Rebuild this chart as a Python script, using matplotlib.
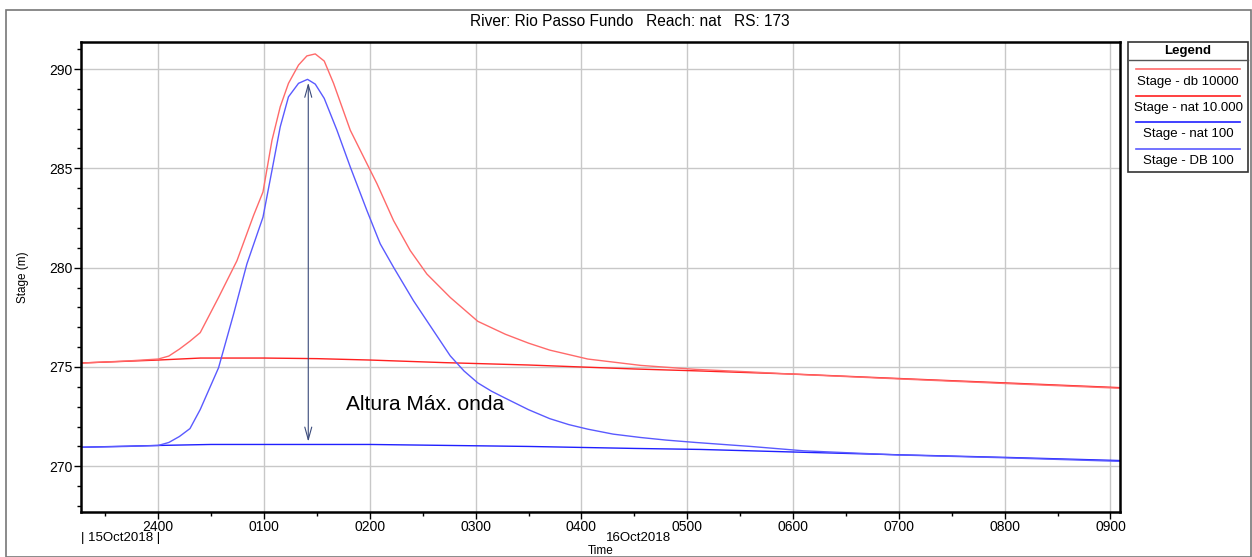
import numpy as np
import matplotlib.pyplot as plt
from matplotlib.patches import Rectangle
from matplotlib.lines import Line2D

plt.rcParams['font.family'] = ['Liberation Sans', 'DejaVu Sans']

# time in hours after 15Oct2018 2400
t_db10000 = [-0.73, -0.3, 0.0, 0.1, 0.2, 0.3, 0.397, 0.57, 0.744, 0.901, 0.99, 1.075, 1.153, 1.231,
             1.326, 1.405, 1.484, 1.569, 1.657, 1.815, 1.972, 2.067, 2.224, 2.382, 2.539, 2.76,
             3.02, 3.28, 3.5, 3.7, 4.06, 4.56, 5.08, 5.6, 6.07, 7.0, 8.0, 9.09]
y_db10000 = [275.2, 275.3, 275.4, 275.55, 275.9, 276.3, 276.73, 278.5, 280.35, 282.63, 283.81, 286.41,
             288.1, 289.28, 290.2, 290.66, 290.76, 290.4, 289.28, 286.92, 285.24, 284.23, 282.37,
             280.86, 279.68, 278.5, 277.3, 276.65, 276.2, 275.85, 275.4, 275.08, 274.88, 274.75,
             274.62, 274.4, 274.17, 273.93]

t_nat10000 = [-0.73, 0.0, 0.4, 1.0, 1.5, 2.0, 2.7, 3.5, 4.5, 5.12, 6.07, 7.0, 8.0, 9.09]
y_nat10000 = [275.2, 275.35, 275.45, 275.45, 275.42, 275.35, 275.22, 275.1, 274.9, 274.8, 274.63,
              274.42, 274.2, 273.96]

t_nat100 = [-0.73, 0.0, 0.5, 1.0, 1.5, 2.0, 2.6, 3.5, 4.5, 5.12, 6.07, 7.0, 8.0, 9.09]
y_nat100 = [270.96, 271.05, 271.1, 271.1, 271.1, 271.1, 271.06, 271.0, 270.9, 270.85, 270.71,
            270.58, 270.45, 270.29]

t_DB100 = [-0.73, -0.3, 0.0, 0.1, 0.2, 0.3, 0.397, 0.57, 0.712, 0.838, 0.99, 1.075, 1.153, 1.231,
           1.326, 1.411, 1.484, 1.569, 1.689, 1.815, 1.972, 2.098, 2.224, 2.413, 2.602, 2.76,
           2.89, 3.02, 3.15, 3.28, 3.5, 3.7, 3.88, 4.06, 4.3, 4.56, 4.8, 5.08, 5.6, 6.1, 7.0,
           8.0, 9.09]
y_DB100 = [270.96, 271.0, 271.05, 271.2, 271.5, 271.9, 272.86, 274.96, 277.66, 280.19, 282.54,
           284.9, 287.09, 288.6, 289.28, 289.48, 289.24, 288.52, 286.92, 285.07, 282.88, 281.2,
           280.02, 278.33, 276.82, 275.56, 274.8, 274.2, 273.78, 273.43, 272.85, 272.4, 272.1,
           271.87, 271.62, 271.45, 271.32, 271.2, 271.0, 270.78, 270.57, 270.43, 270.25]

xtick_pos = list(range(0, 10))
xtick_labels = ['2400', '0100', '0200', '0300', '0400', '0500', '0600', '0700', '0800', '0900']
ytick_pos = [270, 275, 280, 285, 290]

legend_labels = ['Stage - db 10000', 'Stage - nat 10.000', 'Stage - nat 100', 'Stage - DB 100']
legend_colors = ['#ff6a6a', '#ff2020', '#2020ff', '#5a5aff']

W, H = 1252, 557
fig = plt.figure(figsize=(W / 100, H / 100), dpi=100)
ax = fig.add_axes([81 / W, 1 - 512 / H, (1120 - 81) / W, (512 - 42) / H])

ax.plot(t_nat10000, y_nat10000, color=legend_colors[1], lw=1.0)
ax.plot(t_nat100, y_nat100, color=legend_colors[2], lw=1.0)
ax.plot(t_db10000, y_db10000, color=legend_colors[0], lw=1.0)
ax.plot(t_DB100, y_DB100, color=legend_colors[3], lw=1.0)

ax.set_xlim(-0.73, 9.09)
ax.set_ylim(267.7, 291.36)
ax.set_xticks(xtick_pos)
ax.set_xticklabels(xtick_labels, fontsize=10)
ax.set_xticks(np.arange(-0.5, 9.1, 0.5), minor=True)
ax.set_yticks(ytick_pos)
ax.set_yticklabels([str(v) for v in ytick_pos], fontsize=10)
ax.set_yticks(np.arange(268, 292, 1), minor=True)
ax.tick_params(which='major', direction='out', length=5, width=1, pad=1)
ax.tick_params(which='minor', direction='out', length=3, width=1)
ax.grid(True, which='major', color='#c8c8c8', lw=1)
ax.set_axisbelow(True)
for s in ax.spines.values():
    s.set_linewidth(1.8)
ax.set_ylabel('Stage (m)', fontsize=8.5)
ax.yaxis.set_label_coords(-0.050, 0.5)

# arrow for wave height
ax.annotate('', xy=(1.418, 289.45), xytext=(1.418, 271.1),
            arrowprops=dict(arrowstyle='<->,head_length=0.9,head_width=0.25', color='#3a4a7a', lw=0.8))
ax.text(1.77, 273.1, 'Altura Máx. onda', fontsize=15, va='center', ha='left')

# date labels below the time axis
fig.text(81 / W, 1 - 538 / H, '| 15Oct2018 |', fontsize=9.5, va='center', ha='left')
fig.text(639 / W, 1 - 538 / H, '16Oct2018', fontsize=9.5, va='center', ha='center')
fig.text(601 / W, 1 - 551 / H, 'Time', fontsize=8.5, va='center', ha='center')

fig.text(630 / W, 1 - 21 / H, 'River: Rio Passo Fundo   Reach: nat   RS: 173', fontsize=11.2,
         va='center', ha='center')

# outer frame
fig.patches.append(Rectangle((6 / W, 0), (W - 7) / W, 1 - 10 / H, transform=fig.transFigure,
                             fill=False, ec='#777777', lw=1.2))

# legend box
lx0, lx1, ly0, ly1 = 1128, 1248, 42, 172
fig.patches.append(Rectangle((lx0 / W, 1 - ly1 / H), (lx1 - lx0) / W, (ly1 - ly0) / H,
                             transform=fig.transFigure, fill=False, ec='#333333', lw=1.2))
fig.add_artist(Line2D([lx0 / W, lx1 / W], [1 - 60 / H, 1 - 60 / H], color='#555555', lw=1))
fig.text((lx0 + lx1) / 2 / W, 1 - 51 / H, 'Legend', fontsize=9.5, fontweight='bold',
         va='center', ha='center')
for i, (lab, col) in enumerate(zip(legend_labels, legend_colors)):
    yl = 69 + i * 26.5
    fig.add_artist(Line2D([1136 / W, 1240 / W], [1 - yl / H, 1 - yl / H], color=col, lw=1.2))
    fig.text((lx0 + lx1) / 2 / W, 1 - (yl + 12.5) / H, lab, fontsize=9.5, va='center', ha='center')

fig.savefig('out.png', dpi=100)
